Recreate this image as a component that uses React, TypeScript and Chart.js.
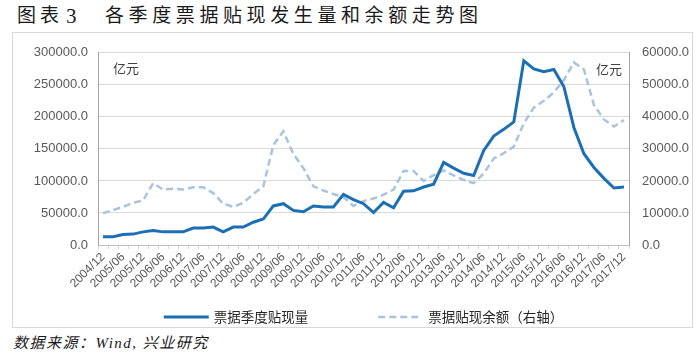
import React, { useEffect, useRef } from "react";
import { Chart, registerables } from "chart.js";

Chart.register(...registerables);

const TITLE_PREFIX = "图表";
const TITLE_NUM = "3";
const TITLE_MAIN = "各季度票据贴现发生量和余额走势图";
const SOURCE_TEXT = "数据来源：Wind, 兴业研究";
const UNIT = "亿元";

const categories = [
  "2004/12", "2005/03", "2005/06", "2005/09", "2005/12", "2006/03", "2006/06", "2006/09", "2006/12",
  "2007/03", "2007/06", "2007/09", "2007/12", "2008/03", "2008/06", "2008/09", "2008/12",
  "2009/03", "2009/06", "2009/09", "2009/12", "2010/03", "2010/06", "2010/09", "2010/12",
  "2011/03", "2011/06", "2011/09", "2011/12", "2012/03", "2012/06", "2012/09", "2012/12",
  "2013/03", "2013/06", "2013/09", "2013/12", "2014/03", "2014/06", "2014/09", "2014/12",
  "2015/03", "2015/06", "2015/09", "2015/12", "2016/03", "2016/06", "2016/09", "2016/12",
  "2017/03", "2017/06", "2017/09", "2017/12",
];

const seriesNames = ["票据季度贴现量", "票据贴现余额（右轴）"];

// 票据季度贴现量 (left axis, 亿元)
const discountVolume = [
  13000, 13000, 16500, 17000, 20500, 22800, 20500, 20500, 20500,
  26400, 26400, 28000, 20500, 28000, 28000, 35500, 40500,
  61000, 64500, 54000, 51800, 61000, 59500, 59500, 79000,
  71000, 64500, 50700, 66500, 58000, 84000, 84500, 90500,
  95000, 129000, 120000, 112000, 108500, 147500, 170000, 180500,
  192000, 287500, 275000, 270500, 274000, 247000, 183500, 142500,
  121000, 104000, 89000, 90500,
];

// 票据贴现余额 (right axis, 亿元)
const discountBalance = [
  9900, 10900, 11900, 13200, 13900, 19300, 17300, 17600, 17300,
  18000, 18000, 16200, 12900, 11900, 13200, 15900, 18300,
  31200, 35500, 28400, 24000, 18300, 17000, 15900, 15000,
  12200, 13700, 14500, 15700, 17300, 23100, 23100, 20000,
  21800, 23300, 21700, 20300, 19300, 22300, 27000, 28700,
  30700, 38000, 42900, 45000, 47600, 51500, 57000, 54800,
  43700, 39200, 37000, 39000,
];

const leftTicks = { min: 0, max: 300000, step: 50000 };
const rightTicks = { min: 0, max: 60000, step: 10000 };

const overlayPlugin = {
  id: "overlay",
  afterDraw(chart: any) {
    const { ctx, chartArea } = chart;
    ctx.save();
    ctx.font = '13px "Noto Sans CJK SC"';
    ctx.fillStyle = "#404040";
    ctx.textBaseline = "middle";
    ctx.textAlign = "left";
    ctx.fillText(UNIT, chartArea.left + 15, chartArea.top + 15);
    ctx.textAlign = "right";
    ctx.fillText(UNIT, chartArea.right - 7, chartArea.top + 16);

    // legend
    const ds = chart.data.datasets;
    ctx.font = '13.5px "Noto Sans CJK SC"';
    const w1 = ctx.measureText(ds[0].label).width;
    const w2 = ctx.measureText(ds[1].label).width;
    const line1 = 45, gap1 = 5, itemGap = 70, line2 = 43, gap2 = 7;
    const total = line1 + gap1 + w1 + itemGap + line2 + gap2 + w2;
    const cx = (chartArea.left + chartArea.right) / 2;
    const y = chartArea.bottom + 72;
    let x = cx - total / 2;
    ctx.lineCap = "butt";
    ctx.strokeStyle = ds[0].borderColor;
    ctx.lineWidth = ds[0].borderWidth;
    ctx.setLineDash([]);
    ctx.beginPath();
    ctx.moveTo(x, y);
    ctx.lineTo(x + line1, y);
    ctx.stroke();
    x += line1 + gap1;
    ctx.textAlign = "left";
    ctx.fillStyle = "#262626";
    ctx.fillText(ds[0].label, x, y);
    x += w1 + itemGap;
    ctx.strokeStyle = ds[1].borderColor;
    ctx.lineWidth = ds[1].borderWidth;
    ctx.setLineDash(ds[1].borderDash);
    ctx.beginPath();
    ctx.moveTo(x, y);
    ctx.lineTo(x + line2, y);
    ctx.stroke();
    ctx.setLineDash([]);
    x += line2 + gap2;
    ctx.fillText(ds[1].label, x, y);
    ctx.restore();
  },
};

function ChartBox() {
  const ref = useRef<HTMLCanvasElement | null>(null);
  useEffect(() => {
    if (!ref.current) return;
    Chart.defaults.font.family = '"Liberation Sans", Arial, sans-serif';
    const chart = new Chart(ref.current, {
      type: "line",
      data: {
        labels: categories,
        datasets: [
          {
            label: seriesNames[0],
            data: discountVolume,
            yAxisID: "y",
            borderColor: "#1d6fb4",
            backgroundColor: "#1d6fb4",
            borderWidth: 3,
            pointRadius: 0,
            tension: 0,
            order: 1,
          },
          {
            label: seriesNames[1],
            data: discountBalance,
            yAxisID: "y1",
            borderColor: "#a9c4de",
            backgroundColor: "#a9c4de",
            borderWidth: 2.5,
            borderDash: [7, 4],
            pointRadius: 0,
            tension: 0,
            order: 2,
          },
        ],
      },
      options: {
        responsive: false,
        animation: false,
        layout: { padding: { top: 16, bottom: 30, left: 0, right: 0 } },
        plugins: {
          legend: { display: false },
          tooltip: { enabled: false },
        },
        scales: {
          x: {
            type: "category",
            offset: true,
            grid: {
              offset: true,
              drawOnChartArea: false,
              drawTicks: true,
              tickLength: 4,
              color: "#d9d9d9",
            },
            border: { display: true, color: "#bfbfbf" },
            ticks: {
              autoSkip: false,
              minRotation: 45,
              maxRotation: 45,
              padding: 1,
              color: "#595959",
              font: { size: 12 },
              callback: (_v: any, i: number) => (i % 2 === 0 ? categories[i] : ""),
            },
            afterFit: (s: any) => {
              s.height = 52;
            },
          },
          y: {
            position: "left",
            min: leftTicks.min,
            max: leftTicks.max,
            ticks: {
              stepSize: leftTicks.step,
              padding: 10,
              color: "#595959",
              font: { size: 13 },
              callback: (v: any) => Number(v).toFixed(1),
            },
            grid: { color: "#d9d9d9", drawTicks: false },
            border: { display: true, color: "#a6a6a6" },
            afterFit: (s: any) => {
              s.width = 85;
            },
          },
          y1: {
            position: "right",
            min: rightTicks.min,
            max: rightTicks.max,
            ticks: {
              stepSize: rightTicks.step,
              padding: 13,
              color: "#595959",
              font: { size: 13 },
              callback: (v: any) => Number(v).toFixed(1),
            },
            grid: { drawOnChartArea: false, drawTicks: false },
            border: { display: true, color: "#a6a6a6" },
            afterFit: (s: any) => {
              s.width = 63;
            },
          },
        },
      },
      plugins: [overlayPlugin],
    });
    return () => chart.destroy();
  }, []);
  return <canvas ref={ref} width={679} height={295} style={{ display: "block" }} />;
}

export default function App() {
  const serifCjk = '"Liberation Serif", "Noto Sans CJK SC", serif';
  return (
    <div
      style={{
        position: "absolute",
        left: 0,
        top: 0,
        width: 700,
        height: 362,
        background: "#ffffff",
        overflow: "hidden",
      }}
    >
      <div
        style={{
          position: "absolute",
          left: 17,
          top: 3,
          fontFamily: serifCjk,
          fontSize: 19,
          letterSpacing: "4px",
          color: "#1a1a1a",
          whiteSpace: "nowrap",
          lineHeight: "26px",
        }}
      >
        {TITLE_PREFIX}
      </div>
      <div
        style={{
          position: "absolute",
          left: 66,
          top: 3,
          fontFamily: serifCjk,
          fontSize: 21,
          color: "#1a1a1a",
          lineHeight: "26px",
        }}
      >
        {TITLE_NUM}
      </div>
      <div
        style={{
          position: "absolute",
          left: 105,
          top: 3,
          fontFamily: serifCjk,
          fontSize: 19,
          letterSpacing: "4.6px",
          color: "#1a1a1a",
          whiteSpace: "nowrap",
          lineHeight: "26px",
        }}
      >
        {TITLE_MAIN}
      </div>
      <div
        style={{
          position: "absolute",
          left: 12,
          top: 32,
          width: 681,
          height: 296,
          border: "1px solid #d9d9d9",
          boxSizing: "border-box",
        }}
      />
      <div style={{ position: "absolute", left: 13, top: 32, width: 679, height: 295 }}>
        <ChartBox />
      </div>
      <div
        style={{
          position: "absolute",
          left: 13,
          top: 332,
          fontFamily: serifCjk,
          fontStyle: "italic",
          fontSize: 15,
          letterSpacing: "1.5px",
          color: "#1a1a1a",
          whiteSpace: "nowrap",
          lineHeight: "22px",
        }}
      >
        {SOURCE_TEXT}
      </div>
    </div>
  );
}
